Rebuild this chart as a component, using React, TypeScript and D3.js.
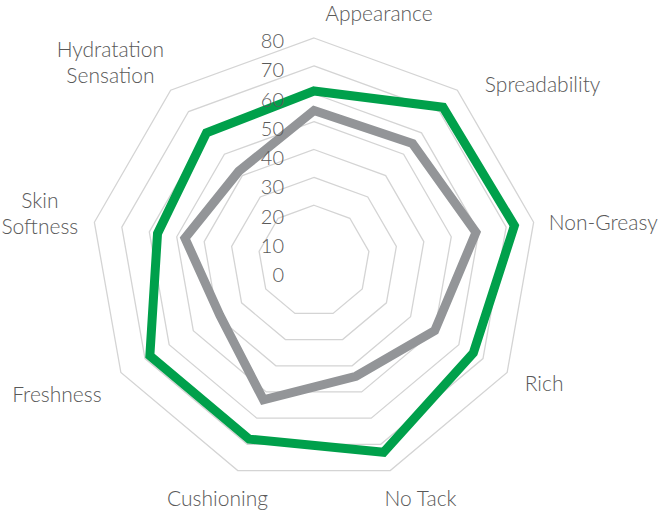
import React, { useEffect, useRef } from 'react';
import * as d3 from 'd3';

// attribute order, clockwise from the top
const categories = [
  'Appearance',
  'Spreadability',
  'Non-Greasy',
  'Rich',
  'No Tack',
  'Cushioning',
  'Freshness',
  'Skin\nSoftness',
  'Hydratation\nSensation',
];

const greenSeries = [61, 72, 73, 66, 73, 68, 68, 57, 60];
const graySeries = [54, 55, 59, 50, 44, 53, 39, 47, 42];

const tickLabels = [0, 10, 20, 30, 40, 50, 60, 70, 80];
const ringLevels = [20, 30, 40, 50, 60, 70, 80];

const W = 660;
const H = 511;

export default function App() {
  const ref = useRef<SVGSVGElement>(null);

  useEffect(() => {
    const svg = d3.select(ref.current);
    svg.selectAll('*').remove();

    const cx = 314;
    const cy = 261;
    const font = 'Lato, "Open Sans", sans-serif';

    // radial scale
    const r = d3.scaleLinear().domain([0, 80]).range([0, 223]);
    const angle = d3
      .scaleLinear()
      .domain([0, categories.length])
      .range([0, 2 * Math.PI]);

    const g = svg.append('g').attr('transform', `translate(${cx},${cy})`);

    const radial = d3
      .lineRadial<number>()
      .angle((_, i) => angle(i))
      .radius((d) => r(d))
      .curve(d3.curveLinearClosed);

    // grid rings
    g.selectAll('.ring')
      .data(ringLevels)
      .join('path')
      .attr('d', (lvl) => radial(categories.map(() => lvl)))
      .attr('fill', 'none')
      .attr('stroke', '#d4d4d4')
      .attr('stroke-width', 1.3);

    // series
    const series = [
      { values: greenSeries, color: '#00A04B' },
      { values: graySeries, color: '#939598' },
    ];
    g.selectAll('.series')
      .data(series)
      .join('path')
      .attr('d', (s) => radial(s.values))
      .attr('fill', 'none')
      .attr('stroke', (s) => s.color)
      .attr('stroke-width', 9)
      .attr('stroke-linejoin', 'miter');

    // value labels, evenly spaced down the first axis
    const tickY = d3.scaleLinear().domain([0, 80]).range([cy + 21, cy - 213]);
    svg
      .append('g')
      .selectAll('text')
      .data(tickLabels)
      .join('text')
      .attr('x', 284)
      .attr('y', (d) => tickY(d))
      .attr('text-anchor', 'end')
      .attr('font-family', font)
      .attr('font-weight', 300)
      .attr('font-size', 20)
      .attr('fill', '#595959')
      .text((d) => d);

    // category labels: polar point plus a nudge to match the original layout
    const nudge = [
      [65, 13],
      [66, 25],
      [40, 13],
      [11, 3],
      [20, 7],
      [-10, 7],
      [-38, 14],
      [-25, -9],
      [-41, -10],
    ];
    const labelR = r(80) + 30;
    const lab = svg
      .append('g')
      .selectAll('text')
      .data(categories)
      .join('text')
      .attr('transform', (_, i) => {
        const a = angle(i);
        const x = cx + labelR * Math.sin(a) + nudge[i][0];
        const y = cy - labelR * Math.cos(a) + nudge[i][1];
        return `translate(${x},${y})`;
      })
      .attr('text-anchor', 'middle')
      .attr('font-family', font)
      .attr('font-weight', 300)
      .attr('font-size', 21)
      .attr('fill', '#595959');

    lab.each(function (d) {
      const t = d3.select(this);
      d.split('\n').forEach((line, k) => {
        t.append('tspan')
          .attr('x', 0)
          .attr('dy', k === 0 ? 0 : 26)
          .text(line);
      });
    });
  }, []);

  return (
    <svg
      ref={ref}
      width={W}
      height={H}
      style={{ position: 'absolute', left: 0, top: 0, background: '#fff' }}
    />
  );
}
